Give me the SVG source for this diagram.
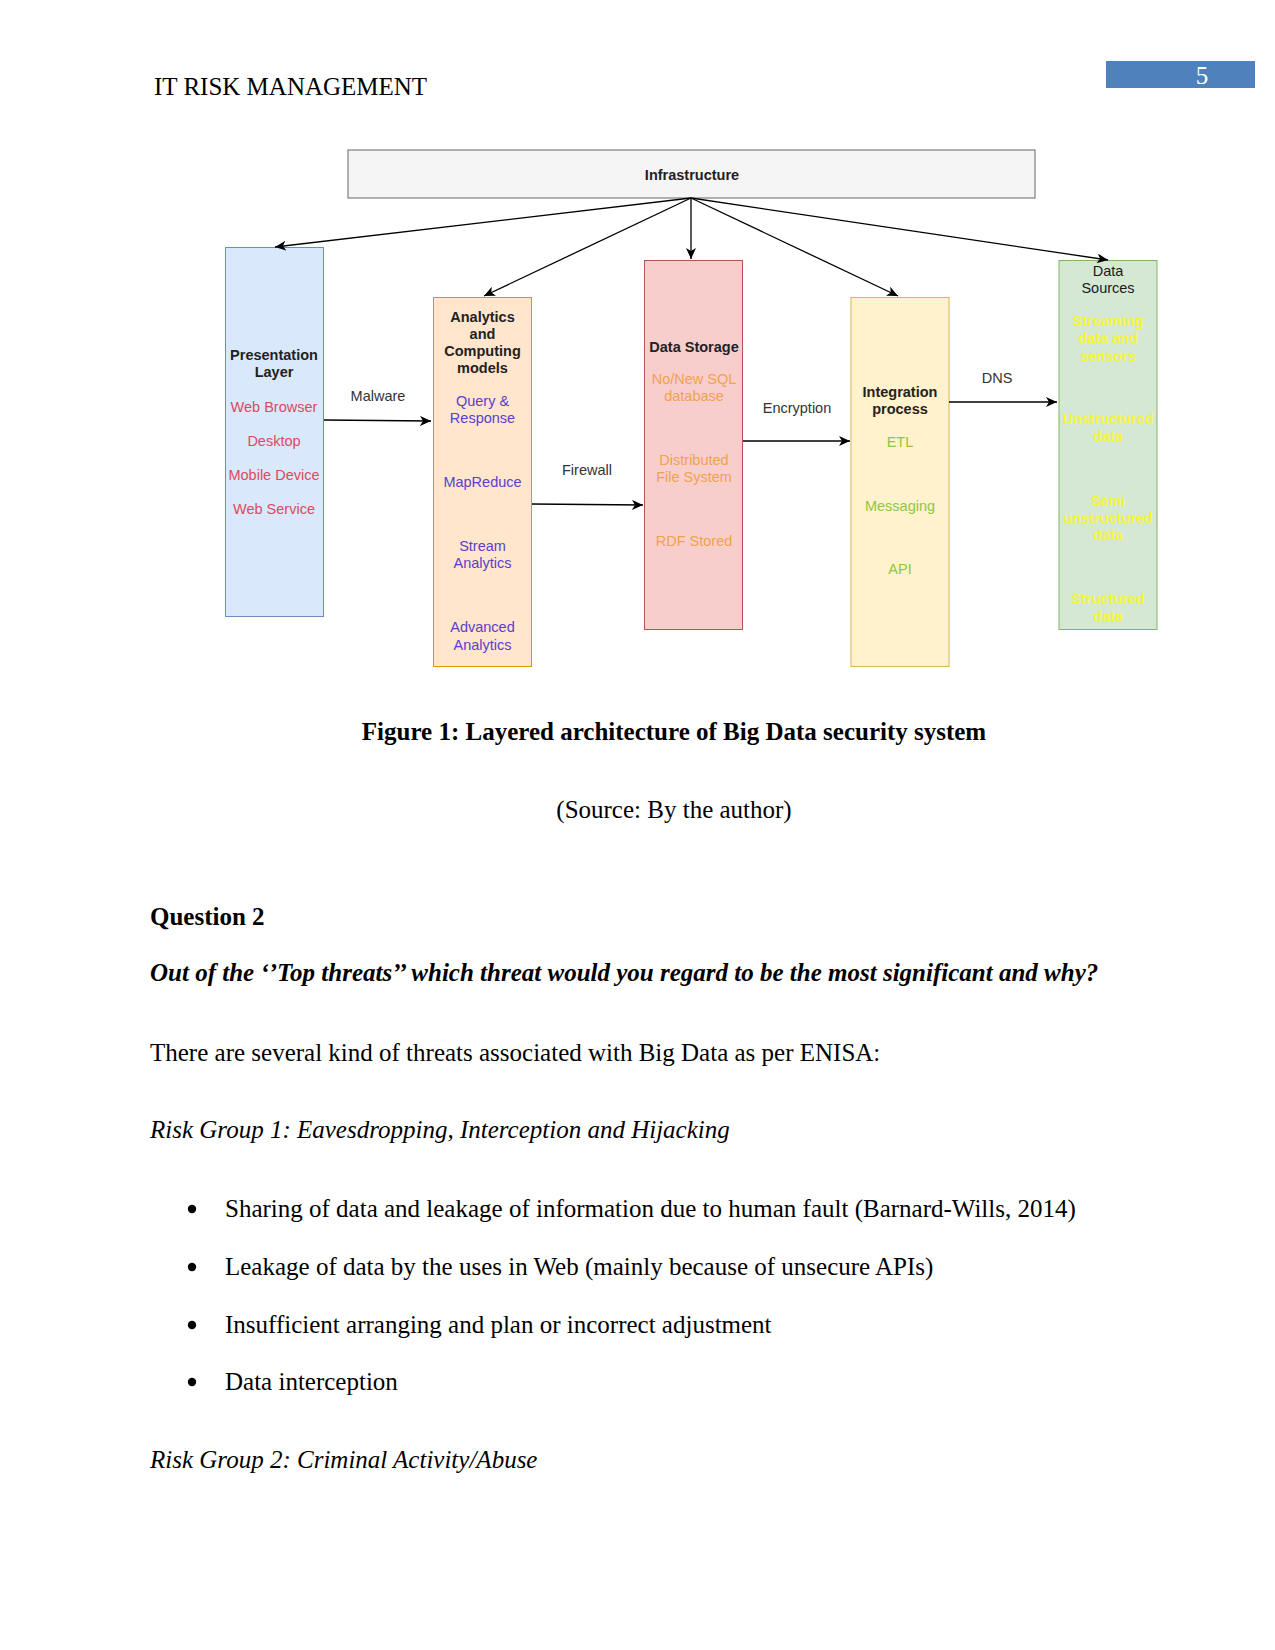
<svg xmlns="http://www.w3.org/2000/svg" width="1275" height="1650" viewBox="0 0 1275 1650">
<defs>
<marker id="arr" markerUnits="userSpaceOnUse" markerWidth="12" markerHeight="10" refX="11" refY="5" orient="auto">
<path d="M0,0 L11,5 L0,10 L3,5 z" fill="#000"/>
</marker>
<style>
.page{font-family:"Liberation Serif","Times New Roman",serif;font-size:25px;fill:#000}
.b{font-weight:bold}
.i{font-style:italic}
.d{font-family:"Liberation Sans",Arial,sans-serif;font-size:14.5px;text-anchor:middle}
.h{font-weight:bold;fill:#222}
.lbl{fill:#333}
.red{fill:#dc4a5e}
.pur{fill:#5a3fcf}
.org{fill:#f0a24f}
.grn{fill:#8fc742}
.yel{fill:#f5f53a;font-weight:bold}
.con{stroke:#000;stroke-width:1.3;fill:none;marker-end:url(#arr)}
.bul{fill:#000}
</style>
</defs>
<rect width="1275" height="1650" fill="#fff"/>

<g id="header">
<text class="page" x="154" y="95">IT RISK MANAGEMENT</text>
<rect x="1106" y="61" width="149" height="27" fill="#4f81bd"/>
<text class="page" x="1202" y="84" style="fill:#fff" text-anchor="middle">5</text>
</g>

<g id="infrastructure">
<rect x="348" y="150" width="687" height="48" fill="#f5f5f5" stroke="#666" stroke-width="1"/>
<text class="d h" x="692" y="180">Infrastructure</text>
</g>

<g id="presentation">
<rect x="225.5" y="247.5" width="98" height="369" fill="#dae8fc" stroke="#6c8ebf" stroke-width="1"/>
<text class="d h" x="274" y="360">Presentation</text>
<text class="d h" x="274" y="377">Layer</text>
<text class="d red" x="274" y="412">Web Browser</text>
<text class="d red" x="274" y="446">Desktop</text>
<text class="d red" x="274" y="480">Mobile Device</text>
<text class="d red" x="274" y="514">Web Service</text>
</g>

<g id="analytics">
<rect x="433.5" y="297.5" width="98" height="369" fill="#ffe6cc" stroke="#d79b00" stroke-width="1"/>
<text class="d h" x="482.5" y="322">Analytics</text>
<text class="d h" x="482.5" y="339">and</text>
<text class="d h" x="482.5" y="356">Computing</text>
<text class="d h" x="482.5" y="373">models</text>
<text class="d pur" x="482.5" y="406">Query &amp;</text>
<text class="d pur" x="482.5" y="423">Response</text>
<text class="d pur" x="482.5" y="487">MapReduce</text>
<text class="d pur" x="482.5" y="551">Stream</text>
<text class="d pur" x="482.5" y="568">Analytics</text>
<text class="d pur" x="482.5" y="632">Advanced</text>
<text class="d pur" x="482.5" y="650">Analytics</text>
</g>

<g id="storage">
<rect x="644.5" y="260.5" width="98" height="369" fill="#f8cecc" stroke="#b85450" stroke-width="1"/>
<text class="d h" x="694" y="352">Data Storage</text>
<text class="d org" x="694" y="384">No/New SQL</text>
<text class="d org" x="694" y="401">database</text>
<text class="d org" x="694" y="465">Distributed</text>
<text class="d org" x="694" y="482">File System</text>
<text class="d org" x="694" y="546">RDF Stored</text>
</g>

<g id="integration">
<rect x="851" y="297.5" width="98" height="369" fill="#fff2cc" stroke="#d6b656" stroke-width="1"/>
<text class="d h" x="900" y="397">Integration</text>
<text class="d h" x="900" y="414">process</text>
<text class="d grn" x="900" y="447">ETL</text>
<text class="d grn" x="900" y="511">Messaging</text>
<text class="d grn" x="900" y="574">API</text>
</g>

<g id="sources">
<rect x="1059" y="260.5" width="98" height="369" fill="#d5e8d4" stroke="#82b366" stroke-width="1"/>
<text class="d" x="1108" y="276" style="fill:#1a1a1a">Data</text>
<text class="d" x="1108" y="293" style="fill:#1a1a1a">Sources</text>
<text class="d yel" x="1108" y="326">Streaming</text>
<text class="d yel" x="1108" y="343">data and</text>
<text class="d yel" x="1108" y="361">sensors</text>
<text class="d yel" x="1108" y="424">Unstructured</text>
<text class="d yel" x="1108" y="441">data</text>
<text class="d yel" x="1108" y="506">Semi</text>
<text class="d yel" x="1108" y="523">unstructured</text>
<text class="d yel" x="1108" y="540">data</text>
<text class="d yel" x="1108" y="604">Structured</text>
<text class="d yel" x="1108" y="621">data</text>
</g>

<g id="connectors">
<line class="con" x1="691" y1="198" x2="275" y2="247"/>
<line class="con" x1="691" y1="198" x2="484" y2="296"/>
<line class="con" x1="691" y1="198" x2="691" y2="259"/>
<line class="con" x1="691" y1="198" x2="898" y2="296"/>
<line class="con" x1="691" y1="198" x2="1108" y2="260"/>
<line class="con" x1="324" y1="420" x2="431" y2="421"/>
<line class="con" x1="532" y1="504" x2="643" y2="505"/>
<line class="con" x1="743" y1="441" x2="850" y2="441"/>
<line class="con" x1="949" y1="402" x2="1057" y2="402"/>
<text class="d lbl" x="378" y="401">Malware</text>
<text class="d lbl" x="587" y="475">Firewall</text>
<text class="d lbl" x="797" y="413">Encryption</text>
<text class="d lbl" x="997" y="383">DNS</text>
</g>

<g id="body">
<text class="page b" x="674" y="740" text-anchor="middle">Figure 1: Layered architecture of Big Data security system</text>
<text class="page" x="674" y="818" text-anchor="middle">(Source: By the author)</text>
<text class="page b" x="150" y="925">Question 2</text>
<text class="page b i" x="150" y="981">Out of the ‘’Top threats’’ which threat would you regard to be the most significant and why?</text>
<text class="page" x="150" y="1061">There are several kind of threats associated with Big Data as per ENISA:</text>
<text class="page i" x="150" y="1138">Risk Group 1: Eavesdropping, Interception and Hijacking</text>
<circle class="bul" cx="192" cy="1209" r="4.2"/>
<text class="page" x="225" y="1217">Sharing of data and leakage of information due to human fault (Barnard-Wills, 2014)</text>
<circle class="bul" cx="192" cy="1267" r="4.2"/>
<text class="page" x="225" y="1275">Leakage of data by the uses in Web (mainly because of unsecure APIs)</text>
<circle class="bul" cx="192" cy="1325" r="4.2"/>
<text class="page" x="225" y="1333">Insufficient arranging and plan or incorrect adjustment</text>
<circle class="bul" cx="192" cy="1382" r="4.2"/>
<text class="page" x="225" y="1390">Data interception</text>
<text class="page i" x="150" y="1468">Risk Group 2: Criminal Activity/Abuse</text>
</g>
</svg>
